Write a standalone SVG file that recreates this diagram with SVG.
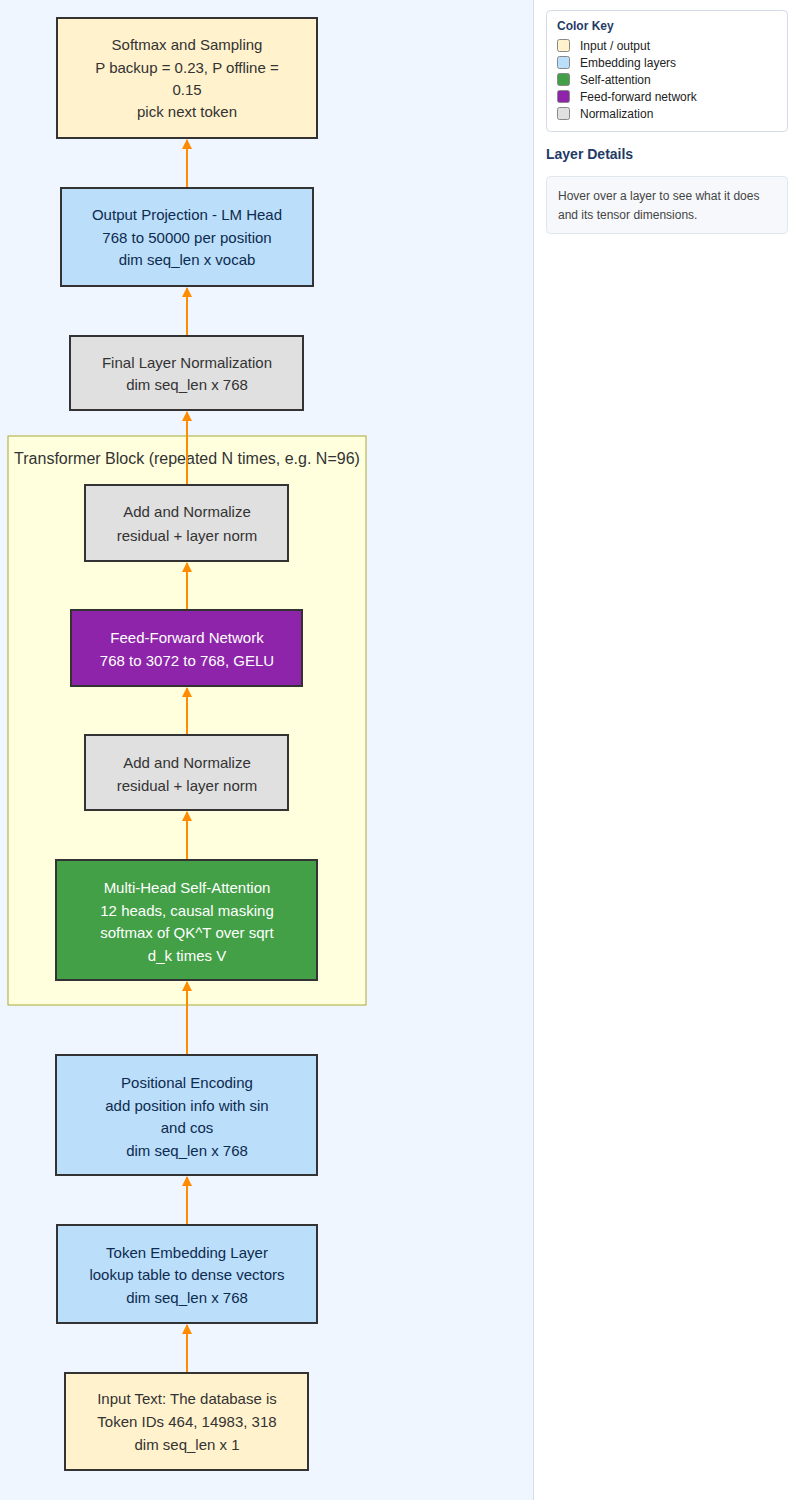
<svg xmlns="http://www.w3.org/2000/svg" width="800" height="1500" viewBox="0 0 800 1500">
<defs>
<marker id="ah" viewBox="0 0 10 10" refX="9" refY="5" markerWidth="5" markerHeight="5" orient="auto"><path d="M0,0 L10,5 L0,10 z" fill="#ff8c00"/></marker>
<style>
.n{stroke:#333;stroke-width:2}
.t{font-family:"Trebuchet MS","Liberation Sans",sans-serif;font-size:15px;text-anchor:middle;dominant-baseline:central}
.io{fill:#fff2cc}.dk{fill:#333}
.emb{fill:#bbdefb}.navy{fill:#0d2b4e}
.att{fill:#43a047}.ffn{fill:#8e24aa}.wh{fill:#fff}
.nrm{fill:#e0e0e0}
.e{stroke:#ff8c00;stroke-width:2;fill:none;marker-end:url(#ah)}
.k{font-family:"Liberation Sans",Arial,sans-serif;font-size:12px;fill:#222}
.sw{stroke:#888;stroke-width:1}
</style>
</defs>
<rect x="0" y="0" width="534" height="1500" fill="#eff6ff"/>
<rect x="534" y="0" width="266" height="1500" fill="#fff"/>
<line x1="533.5" y1="0" x2="533.5" y2="1500" stroke="#d5dde6"/>

<g id="cluster">
<rect x="8" y="436" width="358" height="569" fill="#ffffde" stroke="#aaaa33" stroke-width="1"/>
<text class="t dk" x="187" y="458" style="font-size:16px">Transformer Block (repeated N times, e.g. N=96)</text>
</g>

<g id="edges">
<line class="e" x1="187" y1="1373" x2="187" y2="1325"/>
<line class="e" x1="187" y1="1225" x2="187" y2="1177"/>
<line class="e" x1="187" y1="1055" x2="187" y2="982"/>
<line class="e" x1="187" y1="860" x2="187" y2="812"/>
<line class="e" x1="187" y1="735" x2="187" y2="688"/>
<line class="e" x1="187" y1="610" x2="187" y2="563"/>
<line class="e" x1="187" y1="485" x2="187" y2="412"/>
<line class="e" x1="187" y1="336" x2="187" y2="288"/>
<line class="e" x1="187" y1="188" x2="187" y2="140"/>
</g>

<g id="softmax">
<rect class="n io" x="57" y="18" width="260" height="120"/>
<text class="t dk" x="187" y="44">Softmax and Sampling</text>
<text class="t dk" x="187" y="67">P backup = 0.23, P offline =</text>
<text class="t dk" x="187" y="89">0.15</text>
<text class="t dk" x="187" y="111">pick next token</text>
</g>
<g id="lmhead">
<rect class="n emb" x="61" y="188" width="252" height="98"/>
<text class="t navy" x="187" y="214">Output Projection - LM Head</text>
<text class="t navy" x="187" y="237">768 to 50000 per position</text>
<text class="t navy" x="187" y="259">dim seq_len x vocab</text>
</g>
<g id="finalnorm">
<rect class="n nrm" x="70" y="336" width="233" height="74"/>
<text class="t dk" x="187" y="362">Final Layer Normalization</text>
<text class="t dk" x="187" y="384">dim seq_len x 768</text>
</g>
<g id="addnorm2">
<rect class="n nrm" x="85" y="485" width="203" height="76"/>
<text class="t dk" x="187" y="511">Add and Normalize</text>
<text class="t dk" x="187" y="535">residual + layer norm</text>
</g>
<g id="ffn">
<rect class="n ffn" x="71" y="610" width="231" height="76"/>
<text class="t wh" x="187" y="637">Feed-Forward Network</text>
<text class="t wh" x="187" y="660">768 to 3072 to 768, GELU</text>
</g>
<g id="addnorm1">
<rect class="n nrm" x="85" y="735" width="203" height="75"/>
<text class="t dk" x="187" y="762">Add and Normalize</text>
<text class="t dk" x="187" y="785">residual + layer norm</text>
</g>
<g id="mhsa">
<rect class="n att" x="56" y="860" width="261" height="120"/>
<text class="t wh" x="187" y="887">Multi-Head Self-Attention</text>
<text class="t wh" x="187" y="910">12 heads, causal masking</text>
<text class="t wh" x="187" y="932">softmax of QK^T over sqrt</text>
<text class="t wh" x="187" y="955">d_k times V</text>
</g>
<g id="posenc">
<rect class="n emb" x="56" y="1055" width="261" height="120"/>
<text class="t navy" x="187" y="1082">Positional Encoding</text>
<text class="t navy" x="187" y="1105">add position info with sin</text>
<text class="t navy" x="187" y="1127">and cos</text>
<text class="t navy" x="187" y="1150">dim seq_len x 768</text>
</g>
<g id="tokemb">
<rect class="n emb" x="57" y="1225" width="260" height="98"/>
<text class="t navy" x="187" y="1252">Token Embedding Layer</text>
<text class="t navy" x="187" y="1274">lookup table to dense vectors</text>
<text class="t navy" x="187" y="1297">dim seq_len x 768</text>
</g>
<g id="input">
<rect class="n io" x="65" y="1373" width="243" height="97"/>
<text class="t dk" x="187" y="1398">Input Text: The database is</text>
<text class="t dk" x="187" y="1421">Token IDs 464, 14983, 318</text>
<text class="t dk" x="187" y="1444">dim seq_len x 1</text>
</g>

<g id="colorkey">
<rect x="546.5" y="10.5" width="241" height="121" rx="4" fill="#fff" stroke="#d3dce6"/>
<text x="557" y="30" font-family="Liberation Sans,Arial,sans-serif" font-size="12" font-weight="bold" fill="#1f3b66">Color Key</text>
<rect class="sw" x="557.5" y="39.5" width="12" height="12" rx="2" fill="#fff2cc"/>
<text class="k" x="580" y="50">Input / output</text>
<rect class="sw" x="557.5" y="56.5" width="12" height="12" rx="2" fill="#bbdefb"/>
<text class="k" x="580" y="67">Embedding layers</text>
<rect class="sw" x="557.5" y="73.5" width="12" height="12" rx="2" fill="#43a047"/>
<text class="k" x="580" y="84">Self-attention</text>
<rect class="sw" x="557.5" y="90.5" width="12" height="12" rx="2" fill="#8e24aa"/>
<text class="k" x="580" y="101">Feed-forward network</text>
<rect class="sw" x="557.5" y="107.5" width="12" height="12" rx="2" fill="#e0e0e0"/>
<text class="k" x="580" y="118">Normalization</text>
</g>
<g id="details">
<text x="546" y="159" font-family="Liberation Sans,Arial,sans-serif" font-size="14" font-weight="bold" fill="#1f3b66">Layer Details</text>
<rect x="546.5" y="176.5" width="241" height="57" rx="4" fill="#f6f8fb" stroke="#e0e6ee"/>
<text x="558" y="200" font-family="Liberation Sans,Arial,sans-serif" font-size="12" fill="#444">Hover over a layer to see what it does</text>
<text x="558" y="219" font-family="Liberation Sans,Arial,sans-serif" font-size="12" fill="#444">and its tensor dimensions.</text>
</g>
</svg>
